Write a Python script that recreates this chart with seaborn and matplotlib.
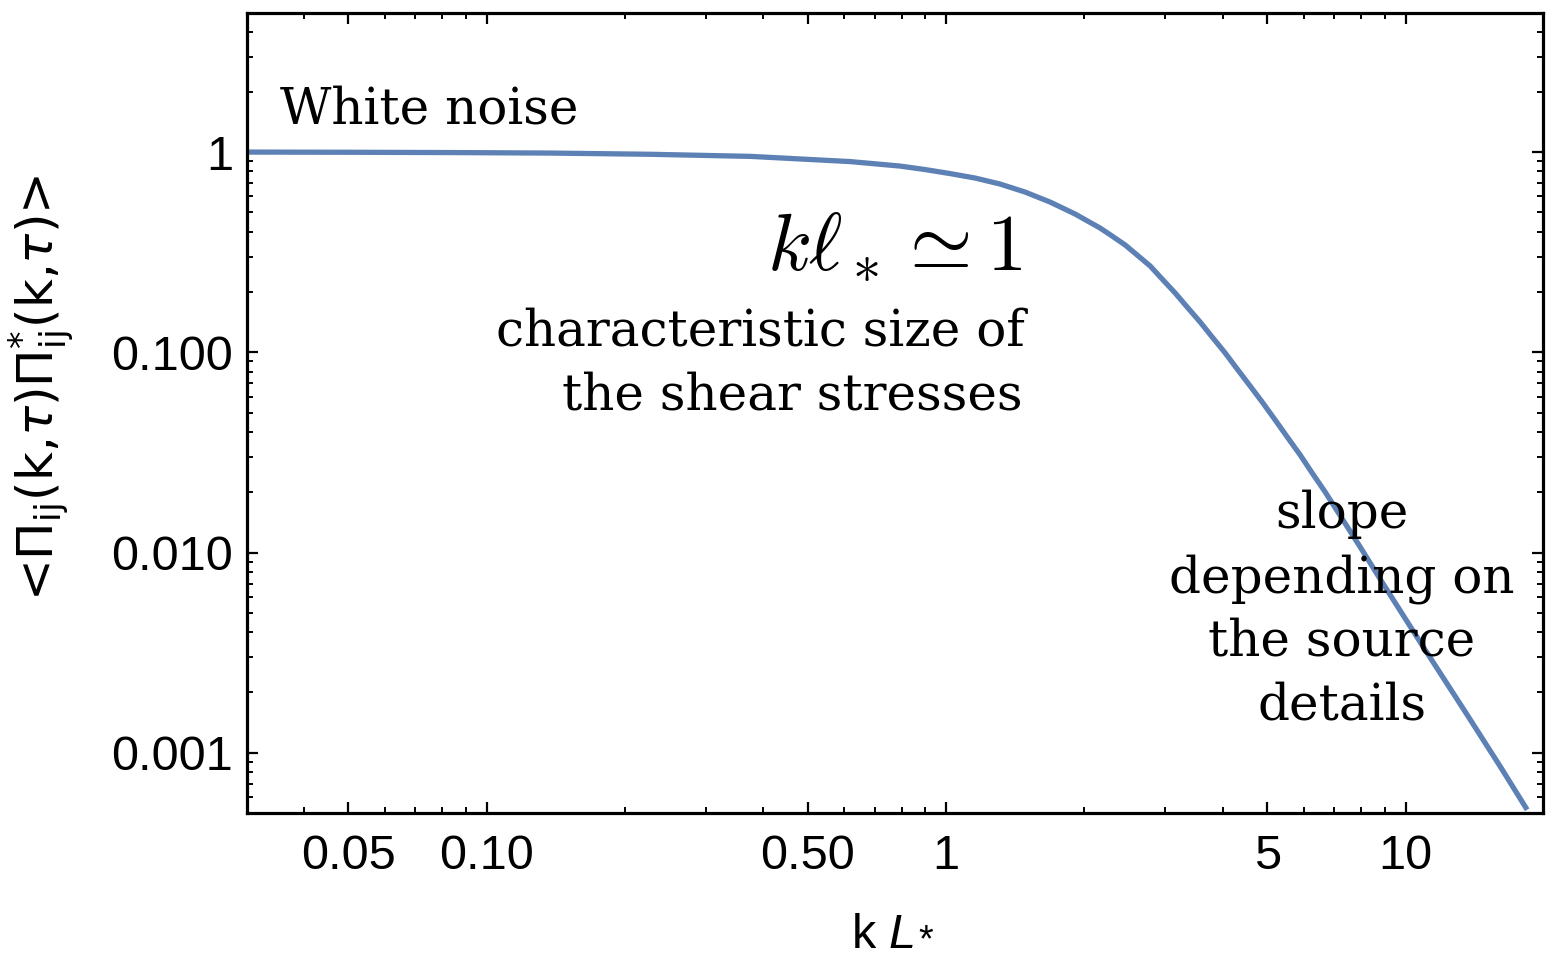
import matplotlib
matplotlib.use("Agg")
import matplotlib.pyplot as plt
import numpy as np
import pandas as pd
import seaborn as sns
from matplotlib.ticker import FixedLocator, FixedFormatter, NullFormatter

# ---- data ----
k_values = [0.0301, 0.05045, 0.0833, 0.1375, 0.2269, 0.3745, 0.6181, 0.7942,
            0.9000, 1.0202, 1.1565, 1.3108, 1.4855, 1.6839, 1.909, 2.163,
            2.2972, 2.453, 2.6043, 2.780, 2.9520, 3.151, 3.3452, 3.571, 3.7924,
            4.048, 4.2987, 4.587, 4.8722, 5.200, 5.5230, 5.8940, 6.2584, 6.6795,
            7.0951, 7.9612, 8.935, 10.92, 13.61, 16.058, 18.38]
spectrum_values = [1.0, 0.9977, 0.9943, 0.9886, 0.9750, 0.9518, 0.8965, 0.8512,
                   0.8178, 0.7808, 0.7417, 0.6921, 0.6313, 0.5627, 0.4902, 0.4174,
                   0.3807, 0.3433, 0.3060, 0.2697, 0.2322, 0.1977, 0.1683, 0.1416,
                   0.1192, 0.09920, 0.08253, 0.06787, 0.05648, 0.04593, 0.03778,
                   0.03071, 0.02496, 0.02007, 0.01613, 0.01066, 0.006970, 0.003378,
                   0.001546, 0.0008543, 0.000519]

x_major_ticks = [0.05, 0.1, 0.5, 1, 5, 10]
x_major_labels = ["0.05", "0.10", "0.50", "1", "5", "10"]
x_minor_ticks = [0.04, 0.06, 0.07, 0.08, 0.09, 0.2, 0.3, 0.4, 0.6, 0.7, 0.8, 0.9,
                 2, 3, 4, 6, 7, 8, 9]
y_major_ticks = [0.001, 0.01, 0.1, 1]
y_major_labels = ["0.001", "0.010", "0.100", "1"]
y_minor_ticks = [m * 10.0 ** e for e in range(-4, 1) for m in range(2, 10)]

x_limits = (0.0301, 19.9)
y_limits = (5.0e-4, 4.95)

line_color = "#5E81B5"

sns.set_theme(style="white")
plt.rcParams["font.family"] = ["Liberation Sans", "DejaVu Sans"]
for key in ["text.color", "axes.labelcolor", "xtick.color", "ytick.color"]:
    plt.rcParams[key] = "black"

W, H = 1558, 960
fig = plt.figure(figsize=(W / 100, H / 100), dpi=100)
ax = fig.add_axes([247 / W, 1 - 813 / H, (1543 - 247) / W, (813 - 13) / H])

df = pd.DataFrame({"k": k_values, "P": spectrum_values})
sns.lineplot(data=df, x="k", y="P", ax=ax, color=line_color, linewidth=3.8,
             estimator=None, sort=True, solid_joinstyle="round",
             solid_capstyle="butt")

ax.set_xscale("log")
ax.set_yscale("log")
ax.set_xlim(*x_limits)
ax.set_ylim(*y_limits)

ax.xaxis.set_major_locator(FixedLocator(x_major_ticks))
ax.xaxis.set_major_formatter(FixedFormatter(x_major_labels))
ax.xaxis.set_minor_locator(FixedLocator(x_minor_ticks))
ax.xaxis.set_minor_formatter(NullFormatter())
ax.yaxis.set_major_locator(FixedLocator(y_major_ticks))
ax.yaxis.set_major_formatter(FixedFormatter(y_major_labels))
ax.yaxis.set_minor_locator(FixedLocator(y_minor_ticks))
ax.yaxis.set_minor_formatter(NullFormatter())

for s in ax.spines.values():
    s.set_linewidth(2.3)
    s.set_color("black")

ax.tick_params(which="both", direction="in", top=True, right=True,
               bottom=True, left=True, color="black")
ax.tick_params(which="major", length=8, width=1.6, labelsize=35, pad=10)
ax.tick_params(which="minor", length=4.5, width=1.4)
ax.tick_params(axis="x", which="major", pad=15)

ax.set_xlabel("")
ax.set_ylabel(r"<$\Pi_{\rm ij}$(k,$\tau$)$\Pi^{*}_{\rm ij}$(k,$\tau$)>",
              fontsize=36, family=["DejaVu Sans"], math_fontfamily="dejavusans")
ax.yaxis.set_label_coords((76 - 247) / 1296, (813 - 388) / 800)


def px(x, y):
    return x / W, 1 - y / H


# x-axis title "k L*" (L italic, * as subscript), written as plain text pieces
sans = ["Liberation Sans"]
fig.text(*px(852, 948), "k", family=sans, fontsize=35, ha="left", va="baseline")
fig.text(*px(888, 948), "L", family=sans, fontsize=35, style="italic",
         ha="left", va="baseline")
fig.text(*px(918, 951), "*", family=sans, fontsize=27, ha="left", va="baseline")

serif = ["DejaVu Serif"]
fs = 36
fig.text(*px(280, 123), "White noise", family=serif, fontsize=fs,
         ha="left", va="baseline")
fig.text(*px(1022, 268), r"$k\ell_* \simeq 1$", fontsize=58, math_fontfamily="cm",
         ha="right", va="baseline")
fig.text(*px(1025, 346), "characteristic size of", family=serif, fontsize=fs,
         ha="right", va="baseline")
fig.text(*px(1023, 409), "the shear stresses", family=serif, fontsize=fs,
         ha="right", va="baseline")
for line, yb in [("slope", 528), ("depending on", 592), ("the source", 655),
                 ("details", 719)]:
    fig.text(*px(1342, yb), line, family=serif, fontsize=fs,
             ha="center", va="baseline")

fig.savefig("out.png", dpi=100)
